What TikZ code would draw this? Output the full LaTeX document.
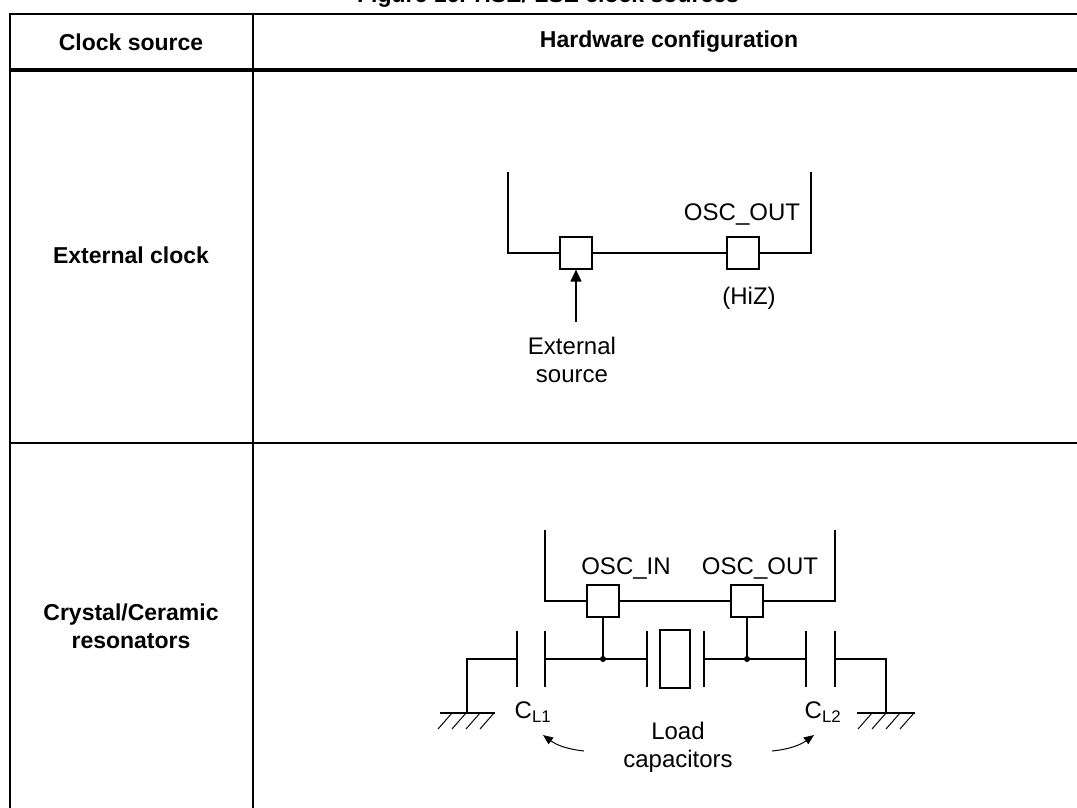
\documentclass[tikz,border=0pt]{standalone}
\usepackage{fontspec}
\setmainfont{Liberation Sans}
\usetikzlibrary{arrows.meta}
\tikzset{
  pin/.style={draw, minimum size=32pt, inner sep=0pt, line width=1.2pt},
  lbl/.style={font=\fontsize{24}{28}\selectfont, align=center},
  hdr/.style={font=\fontsize{23}{28}\selectfont\bfseries, align=center},
  wire/.style={line width=1.4pt},
  chip/.style={line width=2.4pt},
}
\begin{document}
\begin{tikzpicture}[x=1pt,y=-1pt]
        \useasboundingbox (0,0) rectangle (1077,807);
        % table
        \node[hdr] (title) at (548,-3) {Figure 16. HSE/ LSE clock sources};
        \draw[line width=1.5pt] (1080,14) -- (10,14) -- (10,810);
        \draw[line width=1.5pt] (253,14) -- (253,810);
        \draw[line width=4pt] (10,70) -- (1080,70);
        \draw[line width=1.5pt] (10,443) -- (1080,443);
        \node[hdr] (h1) at (131,42) {Clock source};
        \node[hdr] (h2) at (669,42) {Hardware configuration};
        \node[hdr] (r1) at (131,255) {External clock};
        \node[hdr] (r2) at (131,626) {Crystal/Ceramic\\resonators};

        % external clock
        \node[pin] (e1) at (576,253) {};
        \node[pin] (e2) at (743,253) {};
        \draw[chip] (508,172) |- (e1.west);
        \draw[chip] (e1.east) -- (e2.west);
        \draw[chip] (811,172) |- (e2.east);
        \node[lbl] (eout) at (742,214) {OSC\_OUT};
        \node[lbl] (hiz) at (749,298) {(HiZ)};
        \node[lbl] (esrc) at (572,360) {External\\source};
        \coordinate (etail) at (576,322);
        \draw[-{Triangle[length=12pt,width=11pt]}, line width=1.4pt] (etail) -- (e1.south);

        % crystal / ceramic
        \node[pin] (c1) at (603,601) {};
        \node[pin] (c2) at (747,601) {};
        \draw[chip] (545,530) |- (c1.west);
        \draw[chip] (c1.east) -- (c2.west);
        \draw[chip] (835,530) |- (c2.east);
        \node[lbl] (cin) at (626,568) {OSC\_IN};
        \node[lbl] (cout) at (760,568) {OSC\_OUT};

        \coordinate (j1) at (603,659);
        \coordinate (j2) at (747,659);
        \draw[wire] (c1.south) -- (j1);
        \draw[wire] (c2.south) -- (j2);
        \fill (j1) circle (3pt);
        \fill (j2) circle (3pt);
        % plates
        \foreach \px in {517,545,647,704,806,835}
          \draw[wire] (\px,631) -- (\px,687);
        \node[draw, line width=1.2pt, minimum width=30pt, minimum height=58pt, inner sep=0pt] (xtal) at (675,659) {};
        \draw[wire] (545,659) -- (647,659);
        \draw[wire] (704,659) -- (806,659);
        \coordinate (g1) at (467,713);
        \coordinate (g2) at (886,713);
        \draw[wire] (517,659) -| (g1);
        \draw[wire] (835,659) -| (g2);
        \draw[wire] (440,713) -- (495,713);
        \draw[wire] (857,713) -- (915,713);
        \foreach \hx in {452,466,480,494}
          \draw[line width=1pt] (\hx,713) -- ++(-14,16);
        \foreach \hx in {872,886,900,914}
          \draw[line width=1pt] (\hx,713) -- ++(-14,16);
        \node[lbl] (cl1) at (533,712) {C\textsubscript{L1}};
        \node[lbl] (cl2) at (823,712) {C\textsubscript{L2}};
        \node[lbl] (load) at (678,747) {Load\\capacitors};
        \coordinate (a1) at (584,751);
        \coordinate (a2) at (772,751);
        \draw[-{Triangle[length=10pt,width=8pt]}, line width=1pt] (a1) to[bend left=15] (543,735);
        \draw[-{Triangle[length=10pt,width=8pt]}, line width=1pt] (a2) to[bend right=15] (814,735);
\end{tikzpicture}
\end{document}
